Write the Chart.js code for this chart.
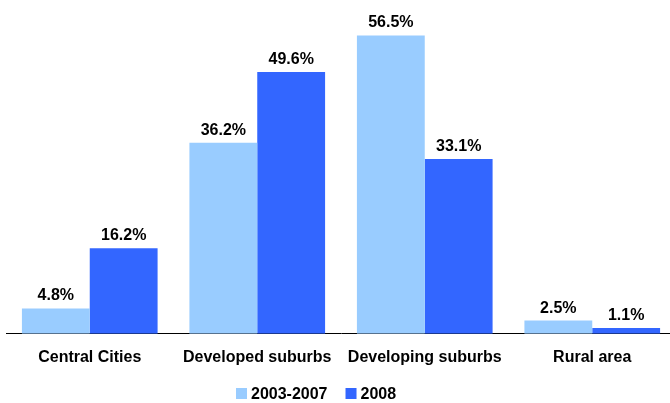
<!DOCTYPE html>
<html>
<head>
<meta charset="utf-8">
<script src="https://cdn.jsdelivr.net/npm/chart.js@4"></script>
<style>
  html, body { margin: 0; padding: 0; background: #fff; overflow: hidden; }
  #wrap { width: 676px; height: 403px; }
</style>
</head>
<body>
<div id="wrap"><canvas id="chart"></canvas></div>
<script>
// Datos del gráfico
const categories = ['Central Cities', 'Developed suburbs', 'Developing suburbs', 'Rural area'];
const seriesNames = ['2003-2007', '2008'];
const values0307 = [4.8, 36.2, 56.5, 2.5];
const values2008 = [16.2, 49.6, 33.1, 1.1];

const colorLight = '#99CCFF';
const colorDark = '#3366FF';
const fontBold = { family: '"Liberation Sans", Arial, sans-serif', size: 16, weight: 'bold' };

// Etiquetas de valor sobre cada barra
const valueLabels = {
  id: 'valueLabels',
  afterDatasetsDraw(chart) {
    const ctx = chart.ctx;
    ctx.save();
    ctx.font = 'bold 16px "Liberation Sans", Arial, sans-serif';
    ctx.fillStyle = '#000';
    ctx.textAlign = 'center';
    ctx.textBaseline = 'alphabetic';
    chart.data.datasets.forEach((ds, i) => {
      chart.getDatasetMeta(i).data.forEach((bar, j) => {
        ctx.fillText(ds.data[j].toFixed(1) + '%', bar.x, bar.y - 8);
      });
    });
    ctx.restore();
  }
};

// Leyenda dibujada a mano para colocarla como en el original
const customLegend = {
  id: 'customLegend',
  afterDraw(chart) {
    const ctx = chart.ctx;
    ctx.save();
    ctx.font = 'bold 16px "Liberation Sans", Arial, sans-serif';
    ctx.textBaseline = 'alphabetic';
    ctx.textAlign = 'left';
    let x = 236;
    const baseY = 399;
    chart.data.datasets.forEach(ds => {
      ctx.fillStyle = ds.backgroundColor;
      ctx.fillRect(x, baseY - 11, 11, 11);
      ctx.fillStyle = '#000';
      ctx.fillText(ds.label, x + 15, baseY);
      x += 15 + ctx.measureText(ds.label).width + 18;
    });
    ctx.restore();
  }
};

new Chart(document.getElementById('chart'), {
  type: 'bar',
  data: {
    labels: categories,
    datasets: [
      { label: seriesNames[0], data: values0307, backgroundColor: colorLight },
      { label: seriesNames[1], data: values2008, backgroundColor: colorDark }
    ]
  },
  options: {
    responsive: true,
    maintainAspectRatio: false,
    animation: false,
    categoryPercentage: 0.81,
    barPercentage: 1,
    layout: { padding: { left: 6, right: 0, top: 17, bottom: 22 } },
    plugins: {
      legend: { display: false },
      tooltip: { enabled: false }
    },
    scales: {
      x: {
        grid: { display: false, drawTicks: false },
        border: { color: '#000', width: 1 },
        ticks: { color: '#000', font: fontBold, padding: 14, maxRotation: 0 }
      },
      y: {
        display: false,
        min: 0,
        max: 60
      }
    }
  },
  plugins: [valueLabels, customLegend]
});
</script>
</body>
</html>
